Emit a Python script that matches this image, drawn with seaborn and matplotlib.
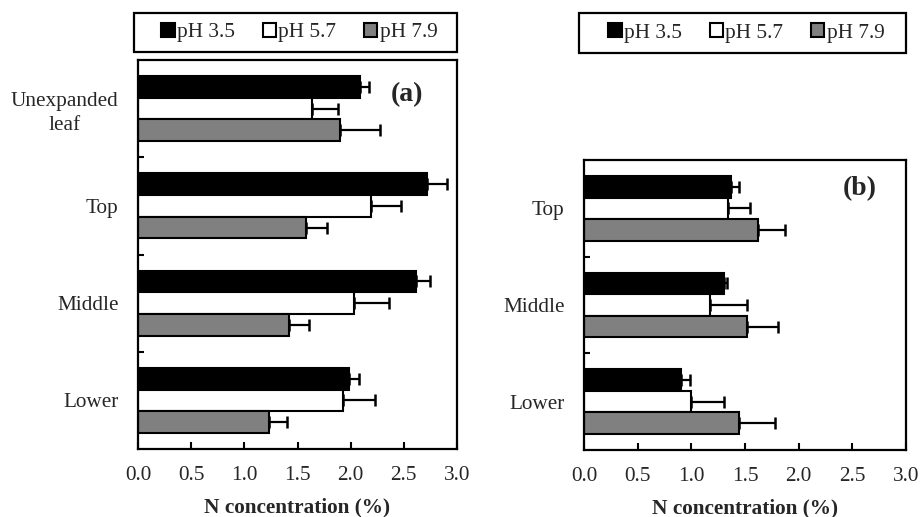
import numpy as np
import pandas as pd
import matplotlib
matplotlib.use("Agg")
import matplotlib.pyplot as plt
import seaborn as sns
from matplotlib.patches import Patch, Rectangle
from matplotlib.ticker import FixedLocator

sns.set_theme(style="white")
plt.rcParams['font.family'] = ['Liberation Serif', 'DejaVu Serif']

# ---- data ----
treatments = ["pH 3.5", "pH 5.7", "pH 7.9"]
colors = ["#000000", "#ffffff", "#808080"]

cats_a = ["Unexpanded\nleaf", "Top", "Middle", "Lower"]
a_ph35 = [2.09, 2.72, 2.61, 1.98]
a_ph57 = [1.64, 2.19, 2.03, 1.93]
a_ph79 = [1.90, 1.58, 1.42, 1.23]
a_err35 = [0.08, 0.19, 0.14, 0.10]
a_err57 = [0.24, 0.28, 0.33, 0.30]
a_err79 = [0.38, 0.20, 0.19, 0.17]

cats_b = ["Top", "Middle", "Lower"]
b_ph35 = [1.37, 1.30, 0.90]
b_ph57 = [1.34, 1.17, 1.00]
b_ph79 = [1.62, 1.52, 1.44]
b_err35 = [0.07, 0.03, 0.09]
b_err57 = [0.21, 0.35, 0.30]
b_err79 = [0.25, 0.29, 0.34]

xticks = [0.0, 0.5, 1.0, 1.5, 2.0, 2.5, 3.0]
xlabel = "N concentration (%)"
FS = 15.3

palette = dict(zip(treatments, colors))


def make_df(cats, vals):
    rows = []
    for t, v in zip(treatments, vals):
        for c, x in zip(cats, v):
            rows.append({"cat": c, "trt": t, "val": x})
    return pd.DataFrame(rows)


W, H = 922, 517
fig = plt.figure(figsize=(W / 100, H / 100), dpi=100)
ax_a = fig.add_axes([138 / W, 1 - 449 / H, 319 / W, 389 / H])
ax_b = fig.add_axes([584 / W, 1 - 450 / H, 322 / W, 290 / H])


def draw(ax, cats, vals, errs, label, label_xy):
    df = make_df(cats, vals)
    sns.barplot(data=df, y="cat", x="val", hue="trt", order=cats,
                hue_order=treatments, palette=palette, orient="h",
                width=0.67, saturation=1, edgecolor="black", linewidth=1.5,
                errorbar=None, legend=False, ax=ax)
    for cont, e in zip(ax.containers, errs):
        ys = [b.get_y() + b.get_height() / 2 for b in cont]
        xs = [b.get_width() for b in cont]
        ax.errorbar(xs, ys, xerr=[np.zeros(len(e)), e], fmt="none",
                    ecolor="black", elinewidth=1.6, capsize=4.5,
                    capthick=1.8, zorder=5)
    n = len(cats)
    ax.set_ylim(n - 0.5, -0.5)
    ax.set_xlim(0, 3.0)
    ax.set_xticks(xticks)
    ax.set_xticklabels([f"{t:.1f}" for t in xticks], fontsize=FS)
    ax.set_yticks(range(n))
    ax.set_yticklabels(cats, fontsize=FS, multialignment="center",
                       linespacing=1.35)
    ax.yaxis.set_minor_locator(FixedLocator([i + 0.5 for i in range(n - 1)]))
    ax.tick_params(axis="y", which="major", length=0, pad=14)
    ax.tick_params(axis="y", which="minor", direction="in", length=4,
                   width=1.5, color="black", left=True)
    ax.tick_params(axis="x", which="major", direction="in", length=5,
                   width=1.5, color="black", bottom=True, pad=12)
    ax.set_ylabel("")
    ax.set_xlabel(xlabel, fontsize=FS, fontweight="bold", labelpad=9)
    for s in ax.spines.values():
        s.set_visible(True)
        s.set_color("black")
        s.set_linewidth(1.6)
    ax.text(label_xy[0], label_xy[1], label, transform=ax.transAxes,
            fontsize=20, fontweight="bold", ha="center", va="center")


draw(ax_a, cats_a, [a_ph35, a_ph57, a_ph79], [a_err35, a_err57, a_err79],
     "(a)", (0.843, 0.912))
draw(ax_b, cats_b, [b_ph35, b_ph57, b_ph79], [b_err35, b_err57, b_err79],
     "(b)", (0.855, 0.90))

handles = [Patch(facecolor=c, edgecolor="black", linewidth=1.5, label=t)
           for t, c in zip(treatments, colors)]
boxes = [(134, 457, 13, 52), (579, 906, 13, 53)]
for (x0, x1, y0, y1) in boxes:
    fig.patches.append(Rectangle((x0 / W, 1 - y1 / H), (x1 - x0) / W,
                                 (y1 - y0) / H, transform=fig.transFigure,
                                 facecolor="white", edgecolor="black",
                                 linewidth=1.6, zorder=0))
    leg = fig.legend(handles=handles, loc="center",
                     bbox_to_anchor=((x0 + x1) / 2 / W + 4 / W,
                                     1 - (y0 + y1) / 2 / H), ncol=3,
                     fontsize=FS, frameon=False,
                     handlelength=0.62, handleheight=0.62, handletextpad=0.12,
                     columnspacing=1.3, borderpad=0, borderaxespad=0)

fig.savefig("out.png", dpi=100)
